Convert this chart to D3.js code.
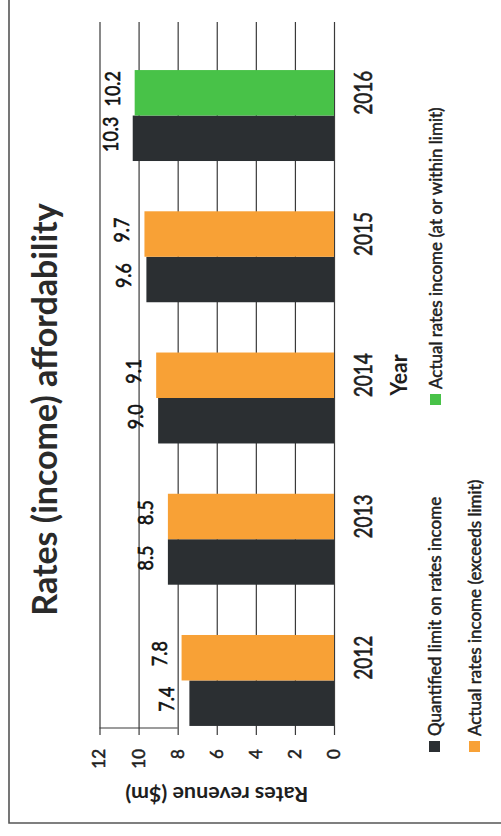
<!DOCTYPE html>
<html><head><meta charset="utf-8">
<script src="https://cdn.jsdelivr.net/npm/d3@7"></script>
<style>html,body{margin:0;padding:0;background:#fff;} svg{display:block;}</style>
</head><body>
<svg id="c" width="501" height="836"></svg>
<script>
// ---- data ----
const years = ["2012", "2013", "2014", "2015", "2016"];
const limitValues = [7.4, 8.5, 9.0, 9.6, 10.3];
const actualValues = [7.8, 8.5, 9.1, 9.7, 10.2];
const actualStatus = ["exceeds", "exceeds", "exceeds", "exceeds", "within"];
const valueTicks = [0, 2, 4, 6, 8, 10, 12];
const legendLabels = ["Quantified limit on rates income", "Actual rates income (exceeds limit)", "Actual rates income (at or within limit)"];
const titleText = "Rates (income) affordability";
const xTitle = "Year";
const yTitle = "Rates revenue ($m)";

// ---- layout (chart drawn in an unrotated frame, then turned 90° counter-clockwise) ----
const W = 836, H = 501;
const colors = { limit: "#2b2f32", exceeds: "#f8a136", within: "#48c248" };
const FONT = "Lato, 'Open Sans', sans-serif";
const textCol = "#1e1e1e";

const svg = d3.select("#c");
svg.append("rect").attr("width", 501).attr("height", 836).attr("fill", "#fff");
const g = svg.append("g").attr("transform", "translate(0,836) rotate(-90)");

function squeeze(sel, k) {
  sel.each(function () {
    const n = this.getComputedTextLength();
    d3.select(this).attr("textLength", n * k).attr("lengthAdjust", "spacingAndGlyphs");
  });
}
function heavy(sel, w) {
  sel.attr("stroke", function () { return d3.select(this).attr("fill"); })
     .attr("stroke-width", w).attr("paint-order", "stroke");
}

// outer border
g.append("path").attr("d", `M13,${H + 20} L13,9 L${W + 20},9`)
  .attr("fill", "none").attr("stroke", "#555").attr("stroke-width", 1.6);

// scales
const x0 = d3.scaleBand().domain(years).range([103, 773]).paddingInner(0.356).paddingOuter(0.05);
const x1 = d3.scaleBand().domain(["limit", "actual"]).range([0, x0.bandwidth()]);
const y = d3.scaleLinear().domain([0, 12]).range([334, 99.5]);

// gridlines (with tick marks below the plot)
const grid = g.append("g").attr("transform", "translate(101,0)")
  .call(d3.axisLeft(y).tickValues(valueTicks).tickSize(-(814 - 101)).tickFormat(""));
grid.select(".domain").remove();
grid.selectAll(".tick line").attr("stroke", "#3a3a3a").attr("stroke-width", 1.2);

// short frame line at plot bottom-left
g.append("line").attr("x1", 108).attr("x2", 108).attr("y1", y(12)).attr("y2", y(8))
  .attr("stroke", "#3a3a3a").attr("stroke-width", 1.2);

// value tick labels
const yAxis = g.append("g").attr("transform", "translate(87,0)")
  .call(d3.axisLeft(y).tickValues(valueTicks).tickSize(0).tickPadding(0).tickFormat(d3.format("d")));
yAxis.select(".domain").remove();
yAxis.selectAll("text").attr("font-family", FONT).attr("font-size", 17).attr("fill", textCol);
heavy(yAxis.selectAll("text"), 0.5);

// bars
const rows = years.map((yr, i) => ({ yr, limit: limitValues[i], actual: actualValues[i], status: actualStatus[i] }));
const grp = g.append("g").selectAll("g").data(rows).join("g")
  .attr("transform", d => `translate(${x0(d.yr)},0)`);

grp.append("rect")
  .attr("x", x1("limit")).attr("width", x1.bandwidth())
  .attr("y", d => y(d.limit)).attr("height", d => y(0) - y(d.limit))
  .attr("fill", colors.limit);
grp.append("rect")
  .attr("x", x1("actual")).attr("width", x1.bandwidth())
  .attr("y", d => y(d.actual)).attr("height", d => y(0) - y(d.actual))
  .attr("fill", d => colors[d.status]);

// data labels
const fmt = d3.format(".1f");
const lab1 = grp.append("text")
  .attr("x", x1("limit") + x1.bandwidth() / 2 + 4).attr("y", d => y(d.limit) - 15)
  .text(d => fmt(d.limit));
const lab2 = grp.append("text")
  .attr("x", x1("actual") + x1.bandwidth() / 2 + 4).attr("y", d => y(d.actual) - 15)
  .text(d => fmt(d.actual));
[lab1, lab2].forEach(s => {
  s.attr("text-anchor", "middle").attr("font-family", FONT).attr("font-size", 21).attr("fill", "#111");
  squeeze(s, 0.85);
  heavy(s, 0.6);
});

// category labels
const cat = g.append("g").selectAll("text").data(years).join("text")
  .attr("x", d => x0(d) + x1("actual") + x1.bandwidth() / 2).attr("y", 372)
  .attr("text-anchor", "middle").attr("font-family", FONT).attr("font-size", 25).attr("fill", textCol)
  .text(d => d);
squeeze(cat, 0.76);
heavy(cat, 0.6);

// axis titles
const xt = g.append("text").attr("x", 461).attr("y", 407).attr("text-anchor", "middle")
  .attr("font-family", FONT).attr("font-weight", "bold").attr("font-size", 23.5).attr("fill", textCol)
  .text(xTitle);
squeeze(xt, 0.9);

g.append("text").attr("transform", `translate(49,${(y(0) + y(12)) / 2}) rotate(-90)`)
  .attr("text-anchor", "middle").attr("font-family", FONT).attr("font-weight", "bold")
  .attr("font-size", 21.5).attr("fill", textCol).text(yTitle);

// title
g.append("text").attr("x", 426.5).attr("y", 57).attr("text-anchor", "middle")
  .attr("font-family", FONT).attr("font-weight", "bold").attr("font-size", 34).attr("fill", "#2a2a2a")
  .text(titleText);

// legend
const legendItems = [
  { label: legendLabels[0], color: colors.limit, u: 84, v: 429 },
  { label: legendLabels[1], color: colors.exceeds, u: 84, v: 469 },
  { label: legendLabels[2], color: colors.within, u: 431, v: 430 }
];
const lg = g.append("g").selectAll("g").data(legendItems).join("g")
  .attr("transform", d => `translate(${d.u},${d.v})`);
lg.append("rect").attr("width", 11).attr("height", 11).attr("fill", d => d.color);
const lt = lg.append("text").attr("x", 16).attr("y", 11.5)
  .attr("font-family", FONT).attr("font-size", 17).attr("fill", textCol)
  .text(d => d.label);
heavy(lt, 0.5);
</script>
</body></html>
